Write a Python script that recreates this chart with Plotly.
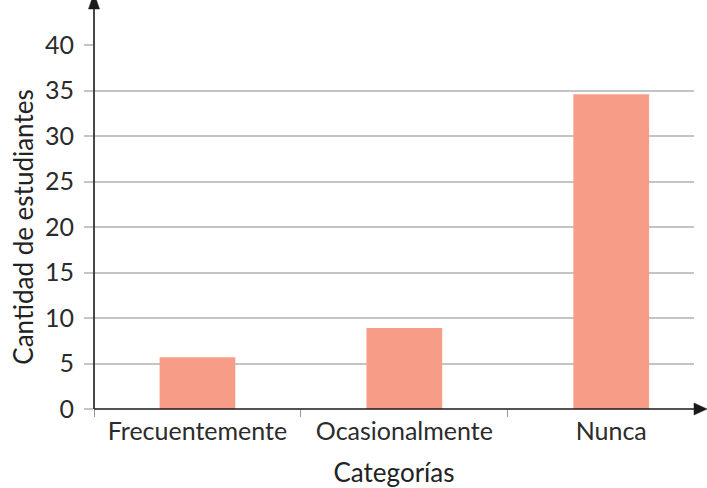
import plotly.graph_objects as go

# Survey results: how often students do the activity
categorias = ["Frecuentemente", "Ocasionalmente", "Nunca"]
estudiantes = [5.7, 8.9, 34.6]
y_ticks = [0, 5, 10, 15, 20, 25, 30, 35, 40]

BAR_COLOR = "#F69C87"
TEXT_COLOR = "#2b2b2b"
AXIS_COLOR = "#1a1a1a"
GRID_COLOR = "#c4c4c4"
FONT = "Lato, 'Open Sans', sans-serif"

W, H = 707, 488
M_L, M_R, M_T, M_B = 94, 13, 45, 79
plot_w = W - M_L - M_R
plot_h = H - M_T - M_B

fig = go.Figure(
    go.Bar(
        x=categorias,
        y=estudiantes,
        width=0.366,
        marker=dict(color=BAR_COLOR, line=dict(width=0)),
        hoverinfo="x+y",
    )
)

# arrow heads drawn in paper units derived from pixel sizes
px_x = 1.0 / plot_w
px_y = 1.0 / plot_h
y_arrow_base = 1 + 36 * px_y
y_arrow_tip = 1 + 52 * px_y
x_arrow_tip = 1 + 13 * px_x

shapes = [
    # vertical axis extension up to the arrow
    dict(type="line", xref="paper", yref="paper", x0=0, x1=0, y0=0, y1=y_arrow_base + 2 * px_y,
         line=dict(color=AXIS_COLOR, width=1.6), layer="above"),
    dict(type="path", xref="paper", yref="paper",
         path=f"M {-5.5*px_x},{y_arrow_base} L {5.5*px_x},{y_arrow_base} L 0,{y_arrow_tip} Z",
         fillcolor=AXIS_COLOR, line=dict(color=AXIS_COLOR, width=0.5), layer="above"),
    # horizontal axis and arrow
    dict(type="line", xref="paper", yref="paper", x0=0, x1=1 + 2 * px_x, y0=0, y1=0,
         line=dict(color=AXIS_COLOR, width=1.6), layer="above"),
    dict(type="path", xref="paper", yref="paper",
         path=f"M 1,{-6*px_y} L 1,{6*px_y} L {x_arrow_tip},0 Z",
         fillcolor=AXIS_COLOR, line=dict(color=AXIS_COLOR, width=0.5), layer="above"),
]

fig.update_layout(
    width=W,
    height=H,
    margin=dict(l=M_L, r=M_R, t=M_T, b=M_B, pad=0),
    paper_bgcolor="white",
    plot_bgcolor="white",
    font=dict(family=FONT, color=TEXT_COLOR, size=25),
    showlegend=False,
    shapes=shapes,
    bargap=0.634,
    xaxis=dict(
        type="category",
        range=[-0.5, 2.4],
        automargin=False,
        showgrid=False,
        showline=False,
        zeroline=False,
        ticks="outside",
        tickson="boundaries",
        ticklen=7,
        tickwidth=1,
        tickcolor="#9a9a9a",
        ticklabelstandoff=5,
        tickfont=dict(size=25, color=TEXT_COLOR),
        title=dict(text="Categorías", font=dict(size=26, color="#222222"), standoff=20),
    ),
    yaxis=dict(
        range=[0, 40],
        tickvals=y_ticks,
        automargin=False,
        showgrid=True,
        gridcolor=GRID_COLOR,
        gridwidth=1.5,
        showline=False,
        zeroline=False,
        ticks="outside",
        ticklen=9,
        tickwidth=1.5,
        tickcolor=GRID_COLOR,
        ticklabelstandoff=5,
        tickfont=dict(size=25, color=TEXT_COLOR),
        title=dict(text="Cantidad de estudiantes", font=dict(size=26, color="#222222"), standoff=3),
    ),
)

fig.write_html("out.html")
